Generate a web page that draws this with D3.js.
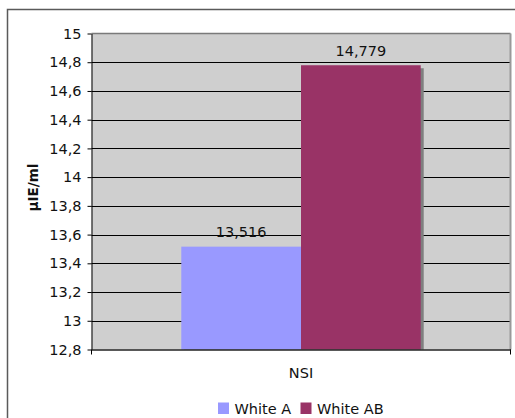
<!DOCTYPE html>
<html>
<head>
<meta charset="utf-8">
<script src="https://cdn.jsdelivr.net/npm/d3@7"></script>
<style>
  html, body { margin: 0; padding: 0; background: #fff; }
  svg { display: block; }
  text { font-family: "DejaVu Sans", Verdana, sans-serif; fill: #111; }
</style>
</head>
<body>
<svg id="chart" width="515" height="418"></svg>
<script>
// Data
const categories = ["NSI"];
const seriesNames = ["White A", "White AB"];
const seriesValues = [13.516, 14.779];
const seriesColors = ["#9999FF", "#993366"];
const yTicks = [12.8, 13, 13.2, 13.4, 13.6, 13.8, 14, 14.2, 14.4, 14.6, 14.8, 15];
const yTitle = "µIE/ml";

const fmt = v => String(+v.toFixed(3)).replace(".", ",");
const FS = 14.5;

const svg = d3.select("#chart");
const plot = { left: 91.5, top: 33.5, right: 510.5, bottom: 349.5 };

// Chart area frame
svg.append("rect")
  .attr("x", 7.5).attr("y", 9.5)
  .attr("width", 530).attr("height", 430)
  .attr("fill", "#fff").attr("stroke", "#5a5a5a").attr("stroke-width", 1.5);

const y = d3.scaleLinear().domain([12.8, 15]).range([plot.bottom, plot.top]);
const x0 = d3.scaleBand().domain(categories).range([plot.left, plot.right]).padding(0);
const gap = x0.bandwidth() * 0.75 / 3.5;
const x1 = d3.scaleBand().domain(seriesNames).range([gap, x0.bandwidth() - gap]).padding(0);

// Plot area background
svg.append("rect")
  .attr("x", plot.left).attr("y", plot.top)
  .attr("width", plot.right - plot.left).attr("height", plot.bottom - plot.top)
  .attr("fill", "#cfcfcf");

// Horizontal gridlines
svg.append("g").selectAll("line")
  .data(yTicks.slice(1, -1))
  .join("line")
  .attr("x1", plot.left).attr("x2", plot.right)
  .attr("y1", d => Math.round(y(d)) + 0.5).attr("y2", d => Math.round(y(d)) + 0.5)
  .attr("stroke", "#000").attr("stroke-width", 1);

// Plot area top / right border
svg.append("path")
  .attr("d", `M${plot.left},${plot.top}H${plot.right}`)
  .attr("stroke", "#7a7a7a").attr("stroke-width", 1.5).attr("fill", "none");
svg.append("path")
  .attr("d", `M${plot.right},${plot.top}V${plot.bottom}`)
  .attr("stroke", "#999").attr("stroke-width", 2).attr("fill", "none");

// Bars with drop shadows
const groups = svg.append("g").selectAll("g")
  .data(categories)
  .join("g")
  .attr("transform", d => `translate(${x0(d)},0)`);

const barData = seriesNames.map((s, i) => ({ name: s, value: seriesValues[i], color: seriesColors[i] }));

groups.selectAll("rect.shadow")
  .data(barData)
  .join("rect")
  .attr("class", "shadow")
  .attr("x", d => x1(d.name) + 3)
  .attr("y", d => y(d.value) + 3)
  .attr("width", x1.bandwidth())
  .attr("height", d => plot.bottom - y(d.value) - 3)
  .attr("fill", "#7f7f7f");

groups.selectAll("rect.bar")
  .data(barData)
  .join("rect")
  .attr("class", "bar")
  .attr("x", d => x1(d.name))
  .attr("y", d => y(d.value))
  .attr("width", x1.bandwidth())
  .attr("height", d => plot.bottom - y(d.value))
  .attr("fill", d => d.color);

groups.selectAll("text.val")
  .data(barData)
  .join("text")
  .attr("class", "val")
  .attr("x", d => x1(d.name) + x1.bandwidth() / 2)
  .attr("y", d => y(d.value) - 9.5)
  .attr("text-anchor", "middle")
  .attr("font-size", FS)
  .text(d => fmt(d.value));

// Y axis
const yAxis = d3.axisLeft(y)
  .tickValues(yTicks)
  .tickFormat(fmt)
  .tickSizeOuter(0)
  .tickSizeInner(4)
  .tickPadding(6);
const gy = svg.append("g")
  .attr("transform", `translate(${plot.left},0)`)
  .call(yAxis);
gy.select(".domain").attr("stroke", "#000");
gy.selectAll(".tick line").attr("stroke", "#000");
gy.selectAll(".tick text")
  .attr("font-size", FS)
  .attr("font-family", "DejaVu Sans, Verdana, sans-serif")
  .attr("fill", "#111");

// X axis
const xAxis = d3.axisBottom(x0).tickSize(0).tickPadding(18);
const gx = svg.append("g")
  .attr("transform", `translate(0,${plot.bottom})`)
  .call(xAxis);
gx.select(".domain").attr("stroke", "#222").attr("stroke-width", 1.5);
gx.selectAll(".tick text")
  .attr("font-size", FS)
  .attr("font-family", "DejaVu Sans, Verdana, sans-serif")
  .attr("fill", "#111");
// Category boundary ticks
svg.append("g").selectAll("line")
  .data([plot.left, plot.right])
  .join("line")
  .attr("x1", d => d).attr("x2", d => d)
  .attr("y1", plot.bottom).attr("y2", plot.bottom + 5)
  .attr("stroke", "#000");

// Y axis title
svg.append("text")
  .attr("transform", `translate(38,${(plot.top + plot.bottom) / 2 - 4}) rotate(-90)`)
  .attr("text-anchor", "middle")
  .attr("font-size", 13.5)
  .attr("font-weight", "bold")
  .text(yTitle);

// Legend
const legend = svg.append("g").attr("transform", "translate(218,414)");
const legendX = [0, 82.5];
const items = legend.selectAll("g")
  .data(barData)
  .join("g")
  .attr("transform", (d, i) => `translate(${legendX[i]},0)`);
items.append("rect")
  .attr("x", 0).attr("y", -11.5)
  .attr("width", 11).attr("height", 11.5)
  .attr("fill", d => d.color);
items.append("text")
  .attr("x", 16.5).attr("y", 0)
  .attr("font-size", FS)
  .text(d => d.name);
</script>
</body>
</html>
